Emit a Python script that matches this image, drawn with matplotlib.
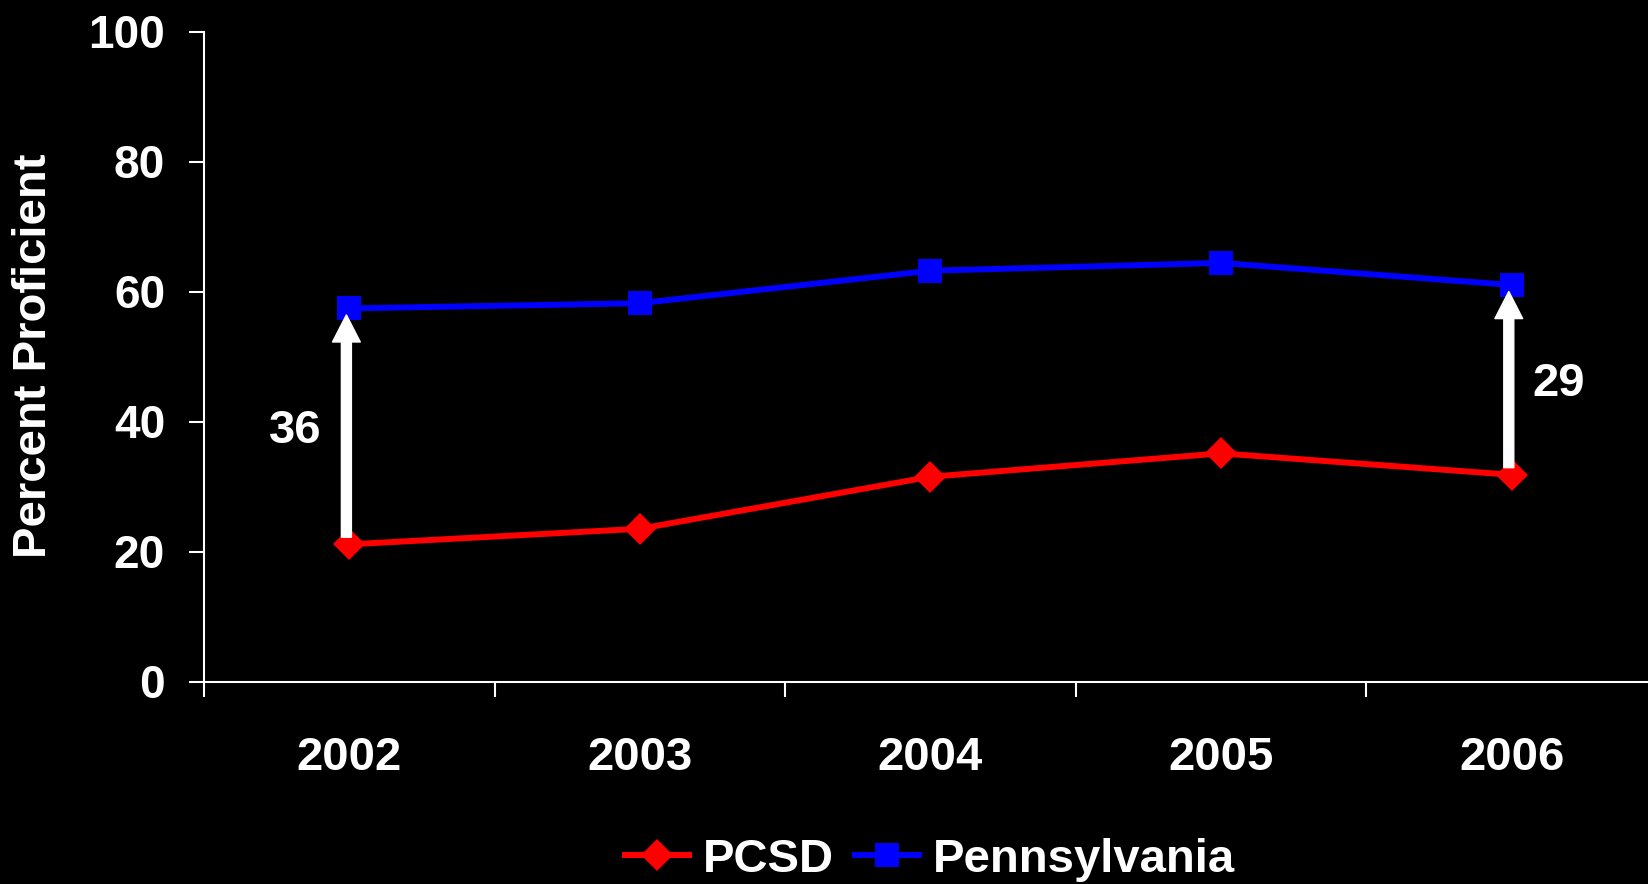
import matplotlib
matplotlib.use("Agg")
import matplotlib.pyplot as plt
from matplotlib.ticker import FixedLocator

# Percent proficient by year
years = ["2002", "2003", "2004", "2005", "2006"]
pcsd = [21.1, 23.5, 31.5, 35.1, 31.8]
pennsylvania = [57.4, 58.2, 63.2, 64.4, 61.0]
gap_labels = ["36", "29"]
y_ticks = [0, 20, 40, 60, 80, 100]

plt.rcParams["font.family"] = ["Liberation Sans", "DejaVu Sans"]
plt.rcParams["font.weight"] = "bold"

W, H, DPI = 1649, 884, 100
fig = plt.figure(figsize=(W / DPI, H / DPI), dpi=DPI, facecolor="black")
ax = fig.add_axes([204 / W, 1 - 681.5 / H, (1657 - 204) / W, (681.5 - 31.5) / H])
ax.set_facecolor("black")

x = list(range(len(years)))
ax.plot(x, pcsd, color="#FF0000", lw=4.3, marker="D", markersize=16,
        markeredgewidth=0, label="PCSD", zorder=3)
ax.plot(x, pennsylvania, color="#0000FF", lw=4.3, marker="s", markersize=17.5,
        markeredgewidth=0, label="Pennsylvania", zorder=3)

# Gap arrows at first and last year
arrow_kw = dict(facecolor="white", edgecolor="white", width=7.2,
                headwidth=20, headlength=19.5, shrink=0)
for i, label, (tx, ty) in [(0, gap_labels[0], (-0.186, 38.5)),
                          (len(years) - 1, gap_labels[1], (4.16, 45.8))]:
    xi = x[i] - 0.01
    ax.annotate("", xy=(xi, pennsylvania[i] - 1.0), xytext=(xi, pcsd[i] + 1.1),
                arrowprops=arrow_kw, zorder=4)
    ax.text(tx, ty, label, color="white", fontsize=34, fontweight="bold",
            ha="center", va="center")

ax.set_xlim(-0.5, len(years) - 0.5)
ax.set_ylim(0, 100)

ax.set_xticks(x)
ax.set_xticklabels(years)
ax.xaxis.set_minor_locator(FixedLocator([i - 0.5 for i in x] + [len(years) - 0.5]))
ax.tick_params(axis="x", which="major", length=0, pad=39, colors="white",
               labelsize=34)
ax.tick_params(axis="x", which="minor", length=11, width=1.5, color="white",
               direction="out")

ax.set_yticks(y_ticks)
ax.tick_params(axis="y", length=11, width=1.5, color="white", labelcolor="white",
               labelsize=33, pad=17, direction="out")
for lab in ax.get_xticklabels() + ax.get_yticklabels():
    lab.set_fontweight("bold")

for side in ["top", "right"]:
    ax.spines[side].set_visible(False)
for side in ["left", "bottom"]:
    ax.spines[side].set_color("white")
    ax.spines[side].set_linewidth(1.5)

fig.text(34 / W, 1 - 356 / H, "Percent Proficient", rotation=90, color="white",
         fontsize=34, fontweight="bold", ha="center", va="center")

leg = ax.legend(loc="center", bbox_to_anchor=(930 / W, 1 - 860 / H),
                bbox_transform=fig.transFigure, ncol=2, frameon=False,
                handlelength=1.35, handletextpad=0.3, columnspacing=0.45,
                borderpad=0, borderaxespad=0, fontsize=34)
for t in leg.get_texts():
    t.set_color("white")
    t.set_fontweight("bold")

fig.savefig("out.png", dpi=DPI, facecolor="black")
